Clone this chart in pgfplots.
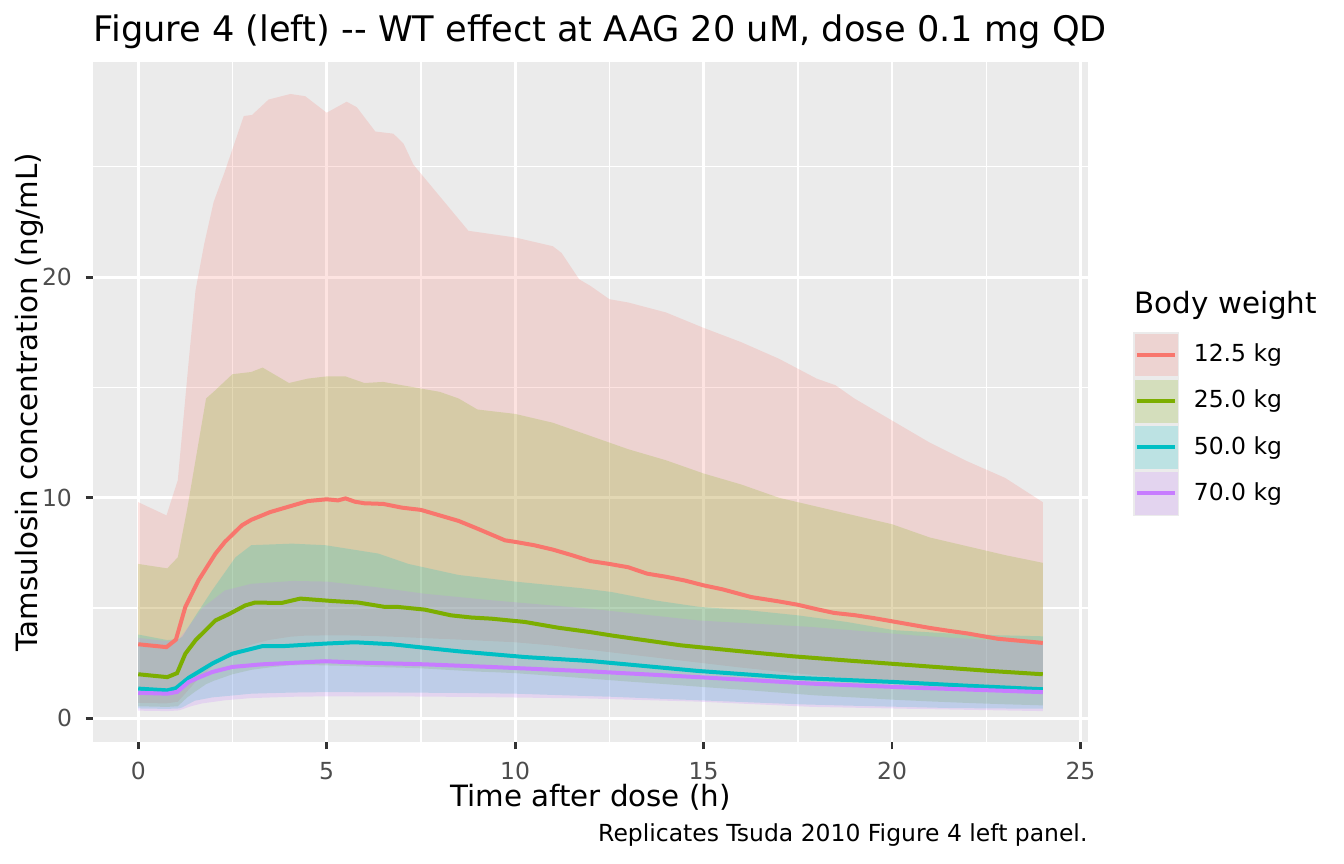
\documentclass[border=0pt]{standalone}
\usepackage{fontspec}
\setmainfont{DejaVu Sans}
\usepackage{pgfplots}
\pgfplotsset{compat=1.18}
\usepackage{pgfplotstable}
\usepgfplotslibrary{fillbetween}
\definecolor{cR}{HTML}{F8766D}
\definecolor{cG}{HTML}{7CAE00}
\definecolor{cC}{HTML}{00BFC4}
\definecolor{cP}{HTML}{C77CFF}
\definecolor{gray92}{HTML}{EBEBEB}
\definecolor{gray30}{HTML}{4D4D4D}
\definecolor{gray20}{HTML}{333333}

\pgfplotstableread{
t lo hi
0 0.70 9.8
0.75 0.68 9.2
1.05 0.75 10.8
1.34 1.3 16.2
1.52 1.65 19.4
1.75 2.0 21.5
2.0 2.4 23.4
2.3 2.75 24.8
2.8 3.2 27.3
3.02 3.35 27.35
3.46 3.55 28.05
4.04 3.7 28.3
4.43 3.75 28.2
5.0 3.76 27.45
5.53 3.76 27.95
5.8 3.75 27.7
6.29 3.73 26.6
6.77 3.7 26.5
7.04 3.68 26.05
7.3 3.66 25.1
8.76 3.55 22.1
9.99 3.45 21.8
11.0 3.3 21.4
11.23 3.25 21.1
11.7 3.15 19.9
12.0 3.1 19.6
12.5 3.0 19.0
13 2.9 18.85
14 2.7 18.4
15 2.5 17.7
16 2.3 17.05
17 2.12 16.3
18 1.95 15.4
18.5 1.87 15.1
19 1.78 14.5
20 1.6 13.5
21 1.47 12.5
22 1.35 11.65
23 1.22 10.9
24 1.1 9.8
}\ribR
\pgfplotstableread{
t med
0 3.36
0.75 3.23
1 3.57
1.25 5.05
1.6 6.26
2.05 7.47
2.3 8.0
2.75 8.75
3 9.0
3.5 9.35
4 9.6
4.5 9.85
5 9.93
5.3 9.88
5.5 9.97
5.75 9.82
6 9.75
6.5 9.72
7 9.55
7.5 9.45
8 9.2
8.5 8.95
9 8.6
9.73 8.07
10 8.0
10.5 7.85
11 7.65
11.5 7.4
12 7.13
12.5 7.0
13 6.85
13.5 6.56
14 6.42
14.5 6.25
15 6.03
15.5 5.85
16.26 5.5
17 5.3
17.5 5.15
18 4.95
18.46 4.78
19 4.68
19.5 4.55
20 4.4
20.6 4.22
21 4.1
21.5 3.97
22 3.85
22.8 3.61
23.5 3.5
24 3.42
}\medR
\pgfplotstableread{
t lo hi
0 0.55 7.0
0.77 0.52 6.8
1.05 0.55 7.3
1.3 0.95 9.5
1.5 1.2 11.5
1.8 1.55 14.5
2.0 1.7 14.8
2.5 2.0 15.6
3.0 2.2 15.7
3.3 2.27 15.9
3.6 2.33 15.6
4.0 2.4 15.2
4.5 2.42 15.4
5.0 2.4 15.5
5.5 2.38 15.5
6.0 2.35 15.2
6.5 2.32 15.25
7.0 2.3 15.1
7.5 2.27 14.95
8.0 2.22 14.8
8.5 2.17 14.5
9.0 2.12 14.0
9.5 2.09 13.9
10 2.05 13.8
11 1.93 13.4
12 1.8 12.8
13 1.67 12.2
14 1.55 11.7
15 1.42 11.1
16 1.3 10.6
17 1.17 10.0
18 1.04 9.6
19 0.95 9.2
20 0.85 8.8
21 0.77 8.2
22 0.7 7.8
23 0.64 7.4
24 0.59 7.05
}\ribG
\pgfplotstableread{
t med
0 2.0
0.77 1.87
1.03 2.05
1.25 2.93
1.52 3.54
2.05 4.44
2.4 4.72
2.84 5.12
3.1 5.25
3.8 5.23
4.3 5.43
5.14 5.32
5.84 5.25
6.55 5.05
6.9 5.05
7.6 4.93
8.3 4.67
8.85 4.57
9.37 4.52
10.26 4.37
11.14 4.11
12.0 3.91
12.55 3.76
14.4 3.31
16.17 3.01
17.4 2.81
19.0 2.6
20.6 2.4
22.6 2.15
24 2.0
}\medG
\pgfplotstableread{
t lo hi
0 0.45 3.8
0.77 0.43 3.55
1.08 0.45 3.6
1.17 0.5 3.7
1.5 0.8 4.6
1.96 0.95 5.8
2.58 1.05 7.3
3.0 1.12 7.85
4.08 1.17 7.92
4.96 1.19 7.85
6.37 1.18 7.47
7.17 1.17 7.0
8.5 1.15 6.5
10 1.12 6.2
11.76 1.02 5.9
12.55 0.98 5.73
13.7 0.9 5.35
14.9 0.82 5.05
16.2 0.73 4.9
17.5 0.64 4.67
18.8 0.58 4.37
20.05 0.53 4.0
21.5 0.47 3.85
22.8 0.45 3.77
24 0.44 3.72
}\ribC
\pgfplotstableread{
t med
0 1.35
0.77 1.27
1.0 1.37
1.34 1.84
1.96 2.48
2.49 2.93
3.28 3.27
3.8 3.27
4.96 3.39
5.75 3.45
6.73 3.36
7.6 3.2
8.5 3.04
10.26 2.78
12.0 2.6
14.85 2.15
17.4 1.84
20.05 1.65
22 1.48
24 1.32
}\medC
\pgfplotstableread{
t lo hi
0 0.35 3.65
0.77 0.33 3.5
1.08 0.36 3.6
1.4 0.55 4.3
1.7 0.68 5.0
2.3 0.82 5.8
3.0 0.92 6.1
4.1 0.98 6.23
5.0 1.0 6.2
6.3 1.0 5.95
7.6 0.99 5.65
9.4 0.96 5.35
12.0 0.9 4.97
14.85 0.76 4.44
17.9 0.52 4.14
20.6 0.43 3.76
24 0.33 3.4
}\ribP
\pgfplotstableread{
t med
0 1.16
0.77 1.12
1.03 1.2
1.34 1.65
1.6 1.85
1.96 2.1
2.49 2.33
3.28 2.45
4.96 2.59
5.84 2.53
7.6 2.45
9.37 2.33
12 2.13
14.85 1.87
17.94 1.57
20.6 1.39
24 1.19
}\medP

\newcommand{\keyimg}[1]{\addlegendimage{legend image code/.code={%
  \fill[fill=gray92, draw=none] (0pt,-8.64pt) rectangle (17.28pt,8.64pt);
  \fill[fill=#1, draw=none, fill opacity=0.2] (0.6pt,-8.04pt) rectangle (16.68pt,8.04pt);
  \draw[draw=#1, line width=1.5pt] (1.4pt,0pt) -- (15.88pt,0pt);}}}

\begin{document}
\begin{tikzpicture}
\begin{axis}[
  at={(34.875pt,45.75pt)}, anchor=south west,
  scale only axis, width=373.125pt, height=255pt,
  xmin=-1.2, xmax=25.2, ymin=-1.07, ymax=29.75,
  xtick={0,5,10,15,20,25}, minor xtick={2.5,7.5,12.5,17.5,22.5},
  ytick={0,10,20}, minor ytick={5,15,25},
  xmajorgrids, ymajorgrids, xminorgrids, yminorgrids,
  major grid style={white, line width=1.07pt},
  minor grid style={white, line width=0.53pt},
  axis background/.style={fill=gray92},
  axis line style={draw=none},
  tick align=outside, tick pos=left,
  major tick length=2.75pt, minor tick length=0pt,
  tick style={gray20, line width=1.07pt},
  /pgf/number format/assume math mode=true,
  ticklabel style={font=\fontsize{8.8}{10}\selectfont, text=gray30},
  xticklabel style={anchor=north, inner sep=0pt, yshift=-4.6pt},
  yticklabel style={anchor=east, inner sep=0pt, xshift=-4.95pt},
  legend style={at={(1.0453,0.603)}, anchor=north west, draw=none, fill=none,
    inner sep=0pt, outer sep=0pt, row sep=0pt, column sep=5.5pt,
    font=\fontsize{8.8}{10.56}\selectfont, nodes={inner sep=0pt}},
  legend cell align=left,
]
\addplot[draw=none, name path=Rhi, forget plot] table[x=t, y=hi] {\ribR};
\addplot[draw=none, name path=Rlo, forget plot] table[x=t, y=lo] {\ribR};
\addplot[fill=cR, fill opacity=0.2, draw=none, forget plot] fill between[of=Rhi and Rlo];
\addplot[draw=none, name path=Ghi, forget plot] table[x=t, y=hi] {\ribG};
\addplot[draw=none, name path=Glo, forget plot] table[x=t, y=lo] {\ribG};
\addplot[fill=cG, fill opacity=0.2, draw=none, forget plot] fill between[of=Ghi and Glo];
\addplot[draw=none, name path=Chi, forget plot] table[x=t, y=hi] {\ribC};
\addplot[draw=none, name path=Clo, forget plot] table[x=t, y=lo] {\ribC};
\addplot[fill=cC, fill opacity=0.2, draw=none, forget plot] fill between[of=Chi and Clo];
\addplot[draw=none, name path=Phi, forget plot] table[x=t, y=hi] {\ribP};
\addplot[draw=none, name path=Plo, forget plot] table[x=t, y=lo] {\ribP};
\addplot[fill=cP, fill opacity=0.2, draw=none, forget plot] fill between[of=Phi and Plo];
\addplot[cR, line width=1.5pt, forget plot] table[x=t, y=med] {\medR};
\addplot[cG, line width=1.5pt, forget plot] table[x=t, y=med] {\medG};
\addplot[cC, line width=1.5pt, forget plot] table[x=t, y=med] {\medC};
\addplot[cP, line width=1.5pt, forget plot] table[x=t, y=med] {\medP};
\keyimg{cR}\addlegendentry{12.5 kg}
\keyimg{cG}\addlegendentry{25.0 kg}
\keyimg{cC}\addlegendentry{50.0 kg}
\keyimg{cP}\addlegendentry{70.0 kg}
\end{axis}
\node[anchor=base west, inner sep=0pt] at (34.875pt,308.25pt) {\fontsize{13.2}{15}\selectfont Figure 4 (left) -{}- WT effect at AAG 20 uM, dose 0.1 mg QD};
\node[anchor=base, inner sep=0pt, rotate=90] at (13.9pt,173.25pt) {\fontsize{11}{13}\selectfont Tamsulosin concentration (ng/mL)};
\node[anchor=base, inner sep=0pt] at (221.44pt,21.4pt) {\fontsize{11}{13}\selectfont Time after dose (h)};
\node[anchor=base east, inner sep=0pt] at (408pt,8.25pt) {\fontsize{8.8}{10}\selectfont Replicates Tsuda 2010 Figure 4 left panel.};
\node[anchor=base west, inner sep=0pt] at (425.3pt,206.6pt) {\fontsize{11}{13}\selectfont Body weight};
\pgfresetboundingbox
\path[use as bounding box] (0,0) rectangle (504pt,324pt);
\end{tikzpicture}
\end{document}
